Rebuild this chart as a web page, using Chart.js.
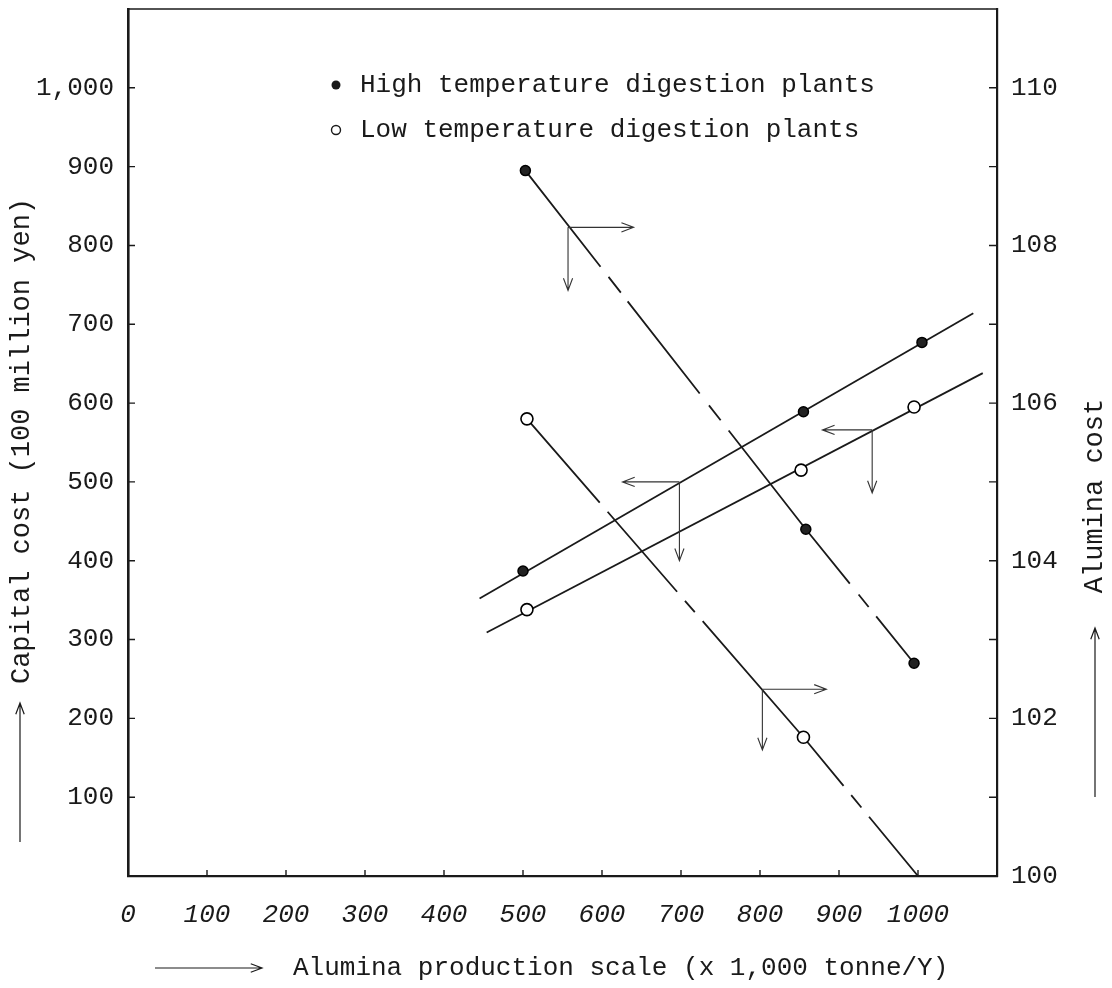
<!DOCTYPE html>
<html><head><meta charset="utf-8">
<script src="https://cdn.jsdelivr.net/npm/chart.js@4.4.1/dist/chart.umd.min.js"></script>
<style>html,body{margin:0;padding:0;background:#fff;} #wrap{width:1112px;height:988px;}</style>
</head><body><div id="wrap"><canvas id="c" width="1112" height="988"></canvas></div>
<script>
const seriesNames = ['High temperature digestion plants', 'Low temperature digestion plants'];
// Capital cost (left axis, 100 million yen) - plotted plants
const capHighX = [500, 855, 1005];
const capHighY = [387, 589, 677];
const capLowX = [505, 852, 995];
const capLowY = [338, 515, 595];
// Fitted capital-cost lines (end points as read)
const capHighLineX = [445, 1070];
const capHighLineY = [352, 714];
const capLowLineX = [454, 1082];
const capLowLineY = [309, 638];
// Alumina cost (right axis)
const aluHighX = [503, 858, 995];
const aluHighY = [108.95, 104.40, 102.70];
const aluLowX = [505, 855, 1000];
const aluLowY = [105.80, 101.76, 100.00];
const aluLowMarked = [true, true, false];
// Tick labels
const xTickValues = [0, 100, 200, 300, 400, 500, 600, 700, 800, 900, 1000];
const xTickLabels = ['0', '100', '200', '300', '400', '500', '600', '700', '800', '900', '1000'];
const yTickValues = [100, 200, 300, 400, 500, 600, 700, 800, 900, 1000];
const yTickLabels = ['100', '200', '300', '400', '500', '600', '700', '800', '900', '1,000'];
const y2TickValues = [100, 102, 104, 106, 108, 110];
const y2TickLabels = ['100', '102', '104', '106', '108', '110'];
// Guide arrows (corner on a line, one arrow to the value axis, one down to the x axis)
const guideAxis = ['y2', 'y', 'y', 'y2'];
const guideCornerX = [557, 698, 942, 803];
const guideCornerY = [108.23, 500, 566, 102.37];
const guideSideToX = [640, 626, 879, 884];
const guideDownToY = [107.43, 400, 486, 101.60];
// Titles
const xTitle = 'Alumina production scale (x 1,000 tonne/Y)';
const yTitle = 'Capital cost (100 million yen)';
const y2Title = 'Alumina cost';

// Chain-line styling of the alumina-cost lines (per segment between plants)
const DASH_HIGH = [[122, 13, 20, 11, 117, 15, 19, 13, 600], [70, 14, 16, 12, 600]];
const DASH_LOW = [[111, 12, 106, 12, 15, 12, 800], [63, 12, 16, 12, 600]];

const FONT = '"Liberation Mono", "DejaVu Sans Mono", monospace';
const INK = '#1a1a1a';
Chart.defaults.font.family = FONT;
Chart.defaults.color = INK;

const pts = (xs, ys) => xs.map((x, i) => ({x: x, y: ys[i]}));

function openArrow(ctx, x1, y1, x2, y2, size) {
  const a = Math.atan2(y2 - y1, x2 - x1);
  const sp = 0.36;
  ctx.beginPath();
  ctx.moveTo(x1, y1); ctx.lineTo(x2, y2);
  ctx.moveTo(x2 - size * Math.cos(a - sp), y2 - size * Math.sin(a - sp));
  ctx.lineTo(x2, y2);
  ctx.lineTo(x2 - size * Math.cos(a + sp), y2 - size * Math.sin(a + sp));
  ctx.stroke();
}

const decor = {
  id: 'decor',
  afterDraw(chart) {
    const ctx = chart.ctx;
    const ca = chart.chartArea;
    const sx = chart.scales.x, sy = chart.scales.y, sy2 = chart.scales.y2;
    ctx.save();
    ctx.strokeStyle = INK; ctx.fillStyle = INK;
    // top border of the frame
    ctx.lineWidth = 1.6;
    ctx.beginPath(); ctx.moveTo(ca.left, ca.top); ctx.lineTo(ca.right, ca.top); ctx.stroke();
    // inward tick marks
    ctx.lineWidth = 1.4;
    ctx.beginPath();
    yTickValues.forEach(v => { const p = sy.getPixelForValue(v); ctx.moveTo(ca.left, p); ctx.lineTo(ca.left + 7, p); });
    for (let v = 101; v <= 110; v++) { const p = sy2.getPixelForValue(v); ctx.moveTo(ca.right, p); ctx.lineTo(ca.right - 8, p); }
    xTickValues.forEach(v => { if (v > 0) { const p = sx.getPixelForValue(v); ctx.moveTo(p, ca.bottom); ctx.lineTo(p, ca.bottom - 6); } });
    ctx.stroke();
    // guide arrows
    ctx.lineWidth = 1.1; ctx.strokeStyle = '#333';
    guideAxis.forEach((ax, i) => {
      const ys = chart.scales[ax];
      const cx = sx.getPixelForValue(guideCornerX[i]);
      const cy = ys.getPixelForValue(guideCornerY[i]);
      openArrow(ctx, cx, cy, sx.getPixelForValue(guideSideToX[i]), cy, 13);
      openArrow(ctx, cx, cy, cx, ys.getPixelForValue(guideDownToY[i]), 13);
    });
    // legend
    ctx.strokeStyle = INK; ctx.lineWidth = 1.4;
    ctx.font = '26px ' + FONT; ctx.textBaseline = 'middle'; ctx.textAlign = 'left';
    const lx = ca.left + 208, ly = [ca.top + 76, ca.top + 121];
    ctx.beginPath(); ctx.arc(lx, ly[0], 4.5, 0, Math.PI * 2); ctx.fill();
    ctx.beginPath(); ctx.arc(lx, ly[1], 4.5, 0, Math.PI * 2); ctx.stroke();
    ctx.fillText(seriesNames[0], lx + 24, ly[0]);
    ctx.fillText(seriesNames[1], lx + 24, ly[1]);
    // axis titles with arrows
    ctx.lineWidth = 1.2;
    ctx.font = '27px ' + FONT;
    ctx.save(); ctx.translate(22, 441); ctx.rotate(-Math.PI / 2); ctx.textAlign = 'center';
    ctx.fillText(yTitle, 0, 0); ctx.restore();
    openArrow(ctx, 20, 842, 20, 703, 12);
    ctx.save(); ctx.translate(1095, 496); ctx.rotate(-Math.PI / 2); ctx.textAlign = 'center';
    ctx.fillText(y2Title, 0, 0); ctx.restore();
    openArrow(ctx, 1095, 797, 1095, 628, 12);
    ctx.font = '26px ' + FONT;
    ctx.textAlign = 'left';
    ctx.fillText(xTitle, 293, 968);
    openArrow(ctx, 155, 968, 262, 968, 12);
    ctx.restore();
  }
};

const tickFont = {size: 26, family: FONT};
const noPadV = s => { s.paddingTop = 0; s.paddingBottom = 0; };
new Chart(document.getElementById('c'), {
  type: 'scatter',
  data: {
    datasets: [
      {label: seriesNames[0] + ' capital', data: pts(capHighX, capHighY), yAxisID: 'y', showLine: false,
       pointRadius: 5, pointBackgroundColor: '#222', pointBorderColor: '#000', pointBorderWidth: 1.5, order: 1},
      {label: seriesNames[1] + ' capital', data: pts(capLowX, capLowY), yAxisID: 'y', showLine: false,
       pointRadius: 6, pointBackgroundColor: '#fff', pointBorderColor: '#000', pointBorderWidth: 1.6, order: 1},
      {label: 'high capital line', data: pts(capHighLineX, capHighLineY), yAxisID: 'y', showLine: true,
       pointRadius: 0, borderColor: INK, borderWidth: 1.8, order: 3},
      {label: 'low capital line', data: pts(capLowLineX, capLowLineY), yAxisID: 'y', showLine: true,
       pointRadius: 0, borderColor: INK, borderWidth: 1.8, order: 3},
      {label: seriesNames[0] + ' alumina', data: pts(aluHighX, aluHighY), yAxisID: 'y2', showLine: true,
       borderColor: INK, borderWidth: 1.8,
       segment: {borderDash: c => DASH_HIGH[c.p0DataIndex] || []},
       pointRadius: 5, pointBackgroundColor: '#222', pointBorderColor: '#000', pointBorderWidth: 1.5, order: 2},
      {label: seriesNames[1] + ' alumina', data: pts(aluLowX, aluLowY), yAxisID: 'y2', showLine: true,
       borderColor: INK, borderWidth: 1.8,
       segment: {borderDash: c => DASH_LOW[c.p0DataIndex] || []},
       pointRadius: aluLowMarked.map(m => m ? 6 : 0), pointBackgroundColor: '#fff', pointBorderColor: '#000',
       pointBorderWidth: 1.6, order: 2}
    ]
  },
  options: {
    responsive: false,
    animation: false,
    devicePixelRatio: 1,
    layout: {padding: {top: 9, left: 0, right: 0, bottom: 0}},
    plugins: {legend: {display: false}, tooltip: {enabled: false}},
    scales: {
      x: {
        type: 'linear', min: 0, max: 1100,
        afterFit: s => { s.height = 112; s.paddingLeft = 0; s.paddingRight = 0; },
        afterBuildTicks: s => { s.ticks = xTickValues.map(v => ({value: v})); },
        ticks: {autoSkip: false, maxRotation: 0, padding: 24, color: INK,
                font: {size: 26, family: FONT, style: 'italic'},
                callback: v => xTickLabels[xTickValues.indexOf(v)] ?? ''},
        grid: {display: false, drawTicks: false},
        border: {display: true, color: INK, width: 2.2}
      },
      y: {
        type: 'linear', position: 'left', min: 0, max: 1100,
        afterFit: s => { s.width = 128; noPadV(s); },
        afterBuildTicks: s => { s.ticks = yTickValues.map(v => ({value: v})); },
        ticks: {autoSkip: false, padding: 14, color: INK, font: tickFont,
                callback: v => yTickLabels[yTickValues.indexOf(v)] ?? ''},
        grid: {display: false, drawTicks: false},
        border: {display: true, color: INK, width: 2.6}
      },
      y2: {
        type: 'linear', position: 'right', min: 100, max: 111,
        afterFit: s => { s.width = 115; noPadV(s); },
        afterBuildTicks: s => { s.ticks = y2TickValues.map(v => ({value: v})); },
        ticks: {autoSkip: false, padding: 14, color: INK, font: tickFont,
                callback: v => y2TickLabels[y2TickValues.indexOf(v)] ?? ''},
        grid: {display: false, drawTicks: false},
        border: {display: true, color: INK, width: 2.2}
      }
    }
  },
  plugins: [decor]
});
</script>
</body></html>
